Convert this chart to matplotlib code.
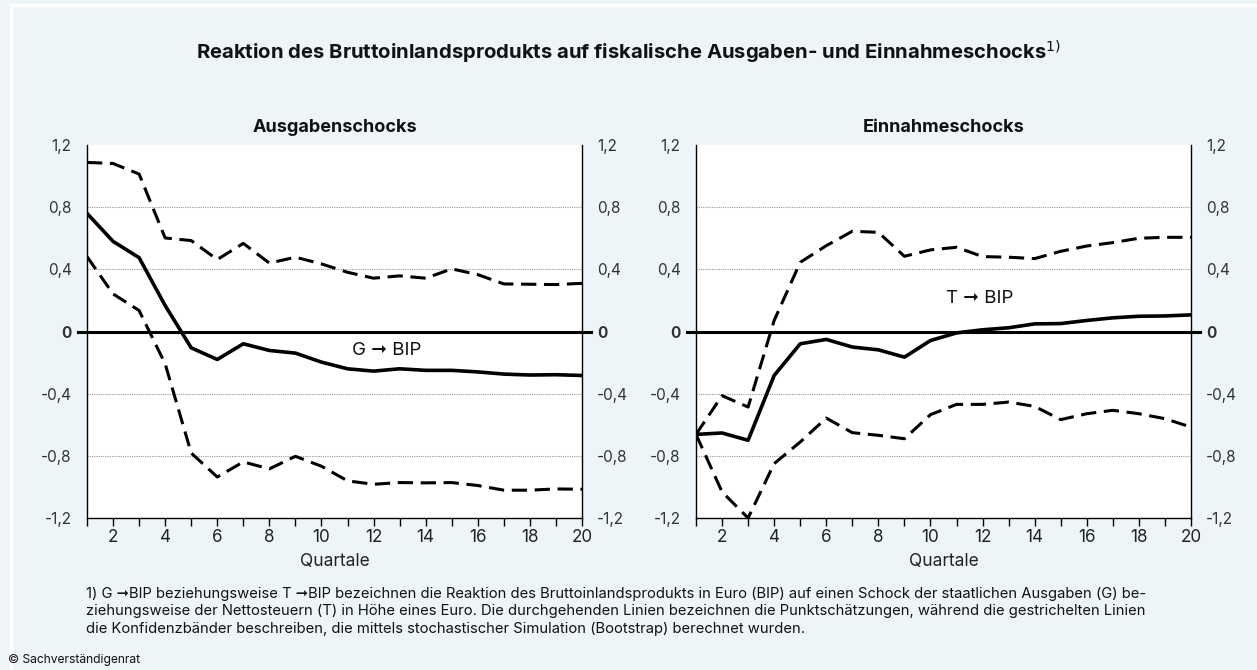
import numpy as np
import matplotlib.pyplot as plt
from matplotlib.patches import Rectangle

plt.rcParams['font.family'] = ['Inter', 'DejaVu Sans']

quartale = list(range(1, 21))

# Ausgabenschocks (G -> BIP)
g_punkt = [0.76, 0.58, 0.475, 0.167, -0.105, -0.18, -0.079, -0.122, -0.139, -0.197,
           -0.24, -0.255, -0.24, -0.25, -0.25, -0.26, -0.274, -0.28, -0.278, -0.283]
g_oben = [1.088, 1.081, 1.013, 0.602, 0.585, 0.463, 0.567, 0.44, 0.478, 0.435,
          0.381, 0.343, 0.358, 0.343, 0.403, 0.366, 0.306, 0.304, 0.302, 0.31]
g_unten = [0.482, 0.242, 0.135, -0.208, -0.782, -0.936, -0.839, -0.884, -0.803, -0.867,
           -0.961, -0.983, -0.972, -0.974, -0.972, -0.991, -1.021, -1.021, -1.013, -1.015]

# Einnahmeschocks (T -> BIP)
t_punkt = [-0.662, -0.653, -0.7, -0.283, -0.079, -0.051, -0.1, -0.118, -0.165, -0.058,
           -0.009, 0.011, 0.024, 0.049, 0.051, 0.071, 0.088, 0.098, 0.1, 0.107]
t_oben = [-0.662, -0.413, -0.486, 0.071, 0.445, 0.552, 0.645, 0.638, 0.484, 0.525,
          0.542, 0.482, 0.478, 0.469, 0.516, 0.55, 0.572, 0.6, 0.606, 0.606]
t_unten = [-0.662, -1.032, -1.2, -0.85, -0.711, -0.557, -0.651, -0.668, -0.69, -0.535,
           -0.469, -0.469, -0.454, -0.482, -0.567, -0.529, -0.507, -0.529, -0.561, -0.615]

yticks = [-1.2, -0.8, -0.4, 0, 0.4, 0.8, 1.2]
ytick_labels = ["-1,2", "-0,8", "-0,4", "0", "0,4", "0,8", "1,2"]
xticks = list(range(2, 21, 2))

bg = "#edf5f9"
W, H = 1257, 670
fig = plt.figure(figsize=(W / 100, H / 100), dpi=100, facecolor=bg)

# white frame line
fig.patches.append(Rectangle((11 / W, -0.1), 1.2, 1.1 - 5 / H, transform=fig.transFigure,
                             fill=False, edgecolor="white", linewidth=2.5))

fig.text(0.5, 1 - 52 / H, "Reaktion des Bruttoinlandsprodukts auf fiskalische Ausgaben- und Einnahmeschocks$^{1)}$",
         ha="center", va="center", fontsize=14.6, fontweight="bold", color="#111111")

panels = [
    ("Ausgabenschocks", g_punkt, g_oben, g_unten, "G \u279e BIP", (12.5, -0.12), 87),
    ("Einnahmeschocks", t_punkt, t_oben, t_unten, "T \u279e BIP", (11.9, 0.21), 696),
]

dash = (0, (5, 2.5))

for title, punkt, oben, unten, label, pos, left_px in panels:
    ax = fig.add_axes([left_px / W, 1 - 518 / H, 495 / W, 373 / H])
    ax.set_facecolor("white")
    ax.set_xlim(1, 20)
    ax.set_ylim(-1.2, 1.2)

    for v in [-0.8, -0.4, 0.4, 0.8]:
        ax.axhline(v, color="#999999", linestyle=(0, (1, 1)), linewidth=0.8, zorder=1)
    ax.axhline(0, xmin=-0.018, xmax=1.018, color="black", linewidth=2.2, clip_on=False, zorder=2)

    ax.plot(quartale, oben, color="black", linewidth=2.2, linestyle=dash, zorder=3)
    ax.plot(quartale, unten, color="black", linewidth=2.2, linestyle=dash, zorder=3)
    ax.plot(quartale, punkt, color="black", linewidth=2.6, zorder=4)

    ax.text(pos[0], pos[1], label, ha="center", va="center", fontsize=13.5, color="#111111")

    ax.spines["top"].set_visible(False)
    for s in ["left", "right", "bottom"]:
        ax.spines[s].set_linewidth(1.0)

    ax.set_xticks(quartale, minor=True)
    ax.set_xticks(xticks)
    ax.set_xticklabels([str(x) for x in xticks], fontsize=12.3, color="#222222")
    ax.tick_params(axis="x", which="both", direction="out", length=6, width=1.0, pad=2)

    ax.set_yticks(yticks)
    ax.set_yticklabels(ytick_labels, fontsize=11, color="#333333")
    ax.tick_params(axis="y", length=0, pad=11, labelleft=True, labelright=True)
    for t in ax.get_yticklabels():
        if t.get_text() == "0":
            t.set_fontweight("bold")

    ax.set_title(title, fontsize=13, fontweight="bold", pad=9, color="#111111")
    ax.set_xlabel("Quartale", fontsize=12.5, labelpad=5, color="#222222")

foot = ("1) G \u279eBIP beziehungsweise T \u279eBIP bezeichnen die Reaktion des Bruttoinlandsprodukts in Euro (BIP) "
        "auf einen Schock der staatlichen Ausgaben (G) be-\n"
        "ziehungsweise der Nettosteuern (T) in H\u00f6he eines Euro. Die durchgehenden Linien bezeichnen die "
        "Punktsch\u00e4tzungen, w\u00e4hrend die gestrichelten Linien\n"
        "die Konfidenzb\u00e4nder beschreiben, die mittels stochastischer Simulation (Bootstrap) berechnet wurden.")
fig.text(86 / W, 1 - 587 / H, foot, ha="left", va="top", fontsize=10.65, linespacing=1.3, color="#111111")
fig.text(8 / W, 1 - 660 / H, "\u00a9 Sachverst\u00e4ndigenrat", ha="left", va="center", fontsize=8.7,
         color="#111111")

fig.savefig("out.png", dpi=100, facecolor=bg)
